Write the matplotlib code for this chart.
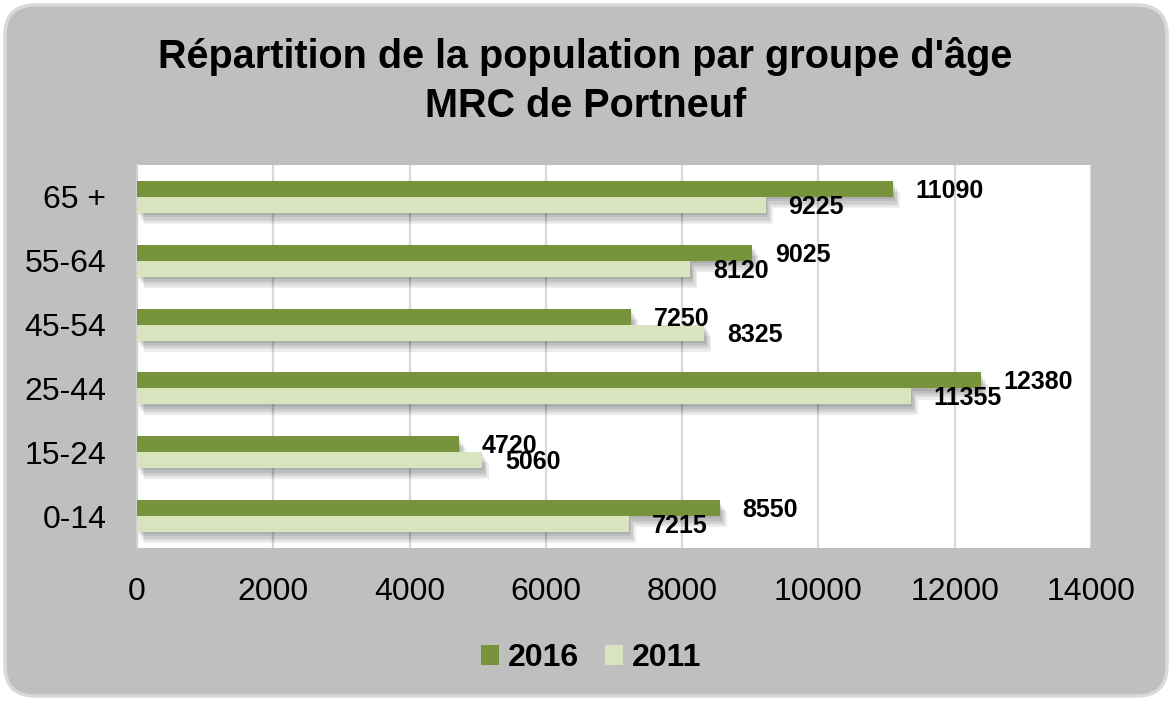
import matplotlib
matplotlib.use("Agg")
import matplotlib.pyplot as plt
from matplotlib.patches import FancyBboxPatch, Patch
import matplotlib.patheffects as pe

plt.rcParams['font.family'] = ['Liberation Sans', 'DejaVu Sans']

# Data (bottom to top)
categories = ['0-14', '15-24', '25-44', '45-54', '55-64', '65 +']
values_2016 = [8550, 4720, 12380, 7250, 9025, 11090]
values_2011 = [7215, 5060, 11355, 8325, 8120, 9225]
series_names = ['2016', '2011']
xticks = [0, 2000, 4000, 6000, 8000, 10000, 12000, 14000]

c2016 = '#77933C'
c2011 = '#D7E4BD'
bg = '#BFBFBF'

W, H = 1171, 701
fig = plt.figure(figsize=(W / 100, H / 100), dpi=100, facecolor='white')

# rounded grey chart area
box = FancyBboxPatch((0.05, 0.05), (W - 9) / 100, (H - 10) / 100,
                     boxstyle="round,pad=0,rounding_size=0.3",
                     transform=fig.dpi_scale_trans, facecolor=bg,
                     edgecolor='#D9D9D9', linewidth=2.5, zorder=-10)
fig.add_artist(box)

ax = fig.add_axes([137 / W, 1 - 548 / H, (1091 - 137) / W, (548 - 165) / H])
ax.set_facecolor('white')

y = list(range(len(categories)))
h = 0.25
shadow = [pe.SimplePatchShadow(offset=(o, -o * 1.6), shadow_rgbFace='black', alpha=0.07)
          for o in (1, 2, 3, 4, 5)] + [pe.Normal()]

b1 = ax.barh([v + h / 2 for v in y], values_2016, height=h, color=c2016,
             label=series_names[0], zorder=3, path_effects=shadow)
b2 = ax.barh([v - h / 2 for v in y], values_2011, height=h, color=c2011,
             label=series_names[1], zorder=3, path_effects=shadow)

for bars, vals in ((b1, values_2016), (b2, values_2011)):
    for rect, v in zip(bars, vals):
        ax.annotate(f"{v}", (v, rect.get_y() + rect.get_height() / 2),
                    xytext=(23, -2), textcoords='offset pixels',
                    ha='left', va='center', fontsize=18, fontweight='bold',
                    color='black', zorder=5)

ax.set_xlim(0, 14000)
ax.set_ylim(-0.5, len(categories) - 0.5)
ax.set_xticks(xticks)
ax.set_xticklabels([str(t) for t in xticks])
ax.set_yticks(y)
ax.set_yticklabels(categories)
ax.tick_params(axis='both', length=0, labelsize=23, colors='black')
ax.tick_params(axis='x', pad=21)
ax.tick_params(axis='y', pad=22)
ax.xaxis.grid(True, color='#D9D9D9', linewidth=1.6, zorder=0)
ax.set_axisbelow(True)
for s in ('top', 'right', 'bottom'):
    ax.spines[s].set_visible(False)
ax.spines['left'].set_color('#D0D0D0')
ax.spines['left'].set_linewidth(1.5)

fig.text(0.5, 1 - 56 / H, "Répartition de la population par groupe d'âge",
         ha='center', va='center', fontsize=28.5, fontweight='bold')
fig.text(0.5, 1 - 106 / H, "MRC de Portneuf",
         ha='center', va='center', fontsize=28.5, fontweight='bold')

handles = [Patch(facecolor=c2016, edgecolor='none'), Patch(facecolor=c2011, edgecolor='none')]
fig.legend(handles, series_names, loc='center', bbox_to_anchor=(0.505, 1 - 658 / H),
           ncol=2, frameon=False, prop={'weight': 'bold', 'size': 23},
           handlelength=0.55, handleheight=0.6, handletextpad=0.3, columnspacing=0.8)

fig.savefig('out.png', dpi=100, facecolor='white')
